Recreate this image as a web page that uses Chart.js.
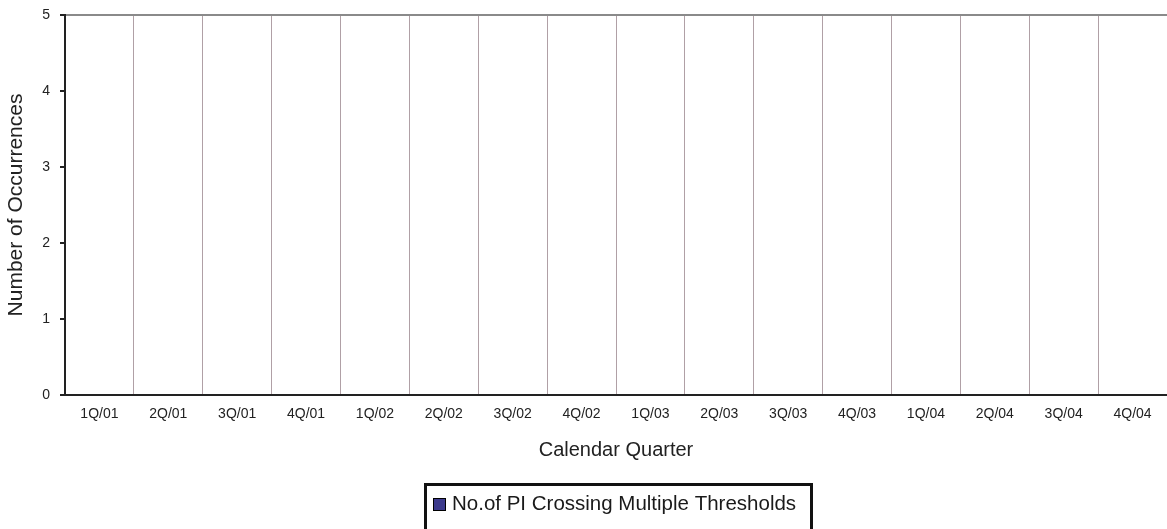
<!DOCTYPE html>
<html>
<head>
<meta charset="utf-8">
<script src="https://cdn.jsdelivr.net/npm/chart.js@4/dist/chart.umd.min.js"></script>
<style>
  html, body { margin: 0; padding: 0; background: #fff; }
  #wrap { width: 1167px; height: 529px; }
</style>
</head>
<body>
<div id="wrap"><canvas id="quarterChart"></canvas></div>
<script>
const quarters = ['1Q/01', '2Q/01', '3Q/01', '4Q/01', '1Q/02', '2Q/02', '3Q/02', '4Q/02',
                  '1Q/03', '2Q/03', '3Q/03', '4Q/03', '1Q/04', '2Q/04', '3Q/04', '4Q/04'];
const occurrences = [0, 0, 0, 0, 0, 0, 0, 0, 0, 0, 0, 0, 0, 0, 0, 0];
const seriesName = 'No.of PI Crossing Multiple Thresholds';
const yMin = 0;
const yMax = 5;

const FONT = 'Liberation Sans, Arial, sans-serif';

// legend drawn as a framed box, like the original
const boxedLegend = {
    id: 'boxedLegend',
    afterDraw(chart) {
        const c = chart.ctx;
        const ds = chart.data.datasets[0];
        c.save();
        c.lineWidth = 3;
        c.strokeStyle = '#111';
        c.strokeRect(425.5, 484.5, 386, 60);
        c.fillStyle = ds.backgroundColor;
        c.fillRect(433, 498, 13, 13);
        c.lineWidth = 1;
        c.strokeStyle = '#000';
        c.strokeRect(433.5, 498.5, 12, 12);
        c.fillStyle = '#1a1a1a';
        c.font = '20.5px ' + FONT;
        c.textBaseline = 'middle';
        c.fillText(ds.label, 452, 504);
        c.restore();
    }
};

new Chart(document.getElementById('quarterChart').getContext('2d'), {
    type: 'bar',
    data: {
        labels: quarters,
        datasets: [{
            label: seriesName,
            data: occurrences,
            backgroundColor: '#3c3a8c',
            borderColor: '#000',
            borderWidth: 1
        }]
    },
    options: {
        responsive: true,
        maintainAspectRatio: false,
        animation: false,
        layout: { padding: { top: 15, right: 0, bottom: 0, left: 0 } },
        plugins: {
            legend: { display: false },
            tooltip: { enabled: false }
        },
        scales: {
            x: {
                offset: true,
                grid: {
                    offset: true,
                    color: '#b0a0a6',
                    lineWidth: 1,
                    drawTicks: false
                },
                border: { color: '#222', width: 2 },
                ticks: {
                    color: '#222',
                    font: { family: FONT, size: 14 },
                    padding: 11,
                    maxRotation: 0,
                    autoSkip: false
                },
                title: {
                    display: true,
                    text: 'Calendar Quarter',
                    color: '#222',
                    font: { family: FONT, size: 20 },
                    padding: { top: 0, bottom: 67 }
                },
                afterFit(scale) { scale.height = 134; }
            },
            y: {
                min: yMin,
                max: yMax,
                grid: {
                    color: ctx => ctx.tick && ctx.tick.value === yMax ? '#8a8a8a' : 'rgba(0,0,0,0)',
                    lineWidth: 2,
                    tickColor: '#222',
                    tickLength: 5
                },
                border: { color: '#222', width: 2 },
                ticks: {
                    stepSize: 1,
                    color: '#222',
                    font: { family: FONT, size: 14 },
                    padding: 10
                },
                title: {
                    display: true,
                    text: 'Number of Occurrences',
                    color: '#222',
                    font: { family: FONT, size: 21 },
                    padding: { top: 4, bottom: 0 }
                },
                afterFit(scale) {
                    scale.width = 65;
                    scale.paddingTop = 0;
                    scale.paddingBottom = 0;
                }
            }
        }
    },
    plugins: [boxedLegend]
});
</script>
</body>
</html>
